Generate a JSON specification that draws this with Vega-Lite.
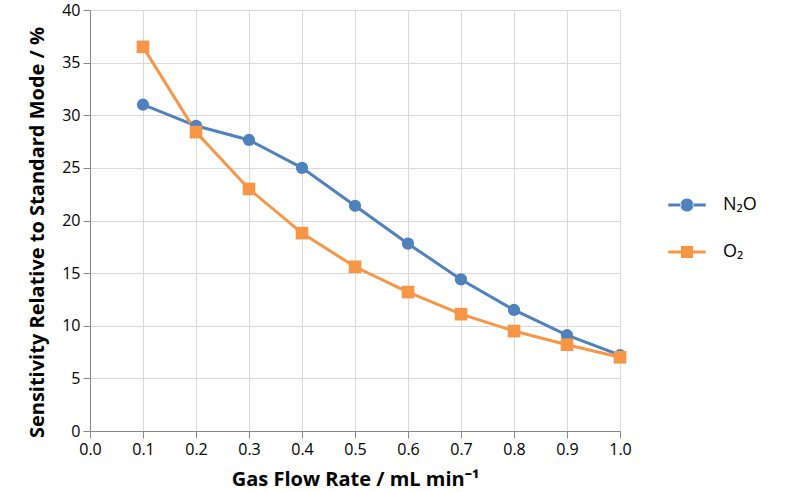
{
  "$schema": "https://vega.github.io/schema/vega-lite/v6.json",
  "autosize": "none",
  "width": 530,
  "height": 421,
  "padding": {"left": 90, "top": 10, "right": 170, "bottom": 61},
  "background": "white",
  "config": {
    "view": {"stroke": null},
    "font": "Open Sans",
    "axis": {
      "labelFont": "Open Sans",
      "labelFontSize": 16,
      "labelColor": "#000000",
      "titleFont": "Open Sans",
      "titleFontSize": 20,
      "titleFontWeight": "bold",
      "titleColor": "#000000",
      "domainColor": "#868686",
      "tickColor": "#868686",
      "gridColor": "#d9d9d9",
      "tickSize": 7,
      "labelPadding": 3
    }
  },
  "data": {
    "values": [
      {"x": 0.1, "value": 31.0, "series": "N₂O"},
      {"x": 0.2, "value": 29.0, "series": "N₂O"},
      {"x": 0.3, "value": 27.65, "series": "N₂O"},
      {"x": 0.4, "value": 25.0, "series": "N₂O"},
      {"x": 0.5, "value": 21.4, "series": "N₂O"},
      {"x": 0.6, "value": 17.8, "series": "N₂O"},
      {"x": 0.7, "value": 14.4, "series": "N₂O"},
      {"x": 0.8, "value": 11.5, "series": "N₂O"},
      {"x": 0.9, "value": 9.1, "series": "N₂O"},
      {"x": 1.0, "value": 7.2, "series": "N₂O"},
      {"x": 0.1, "value": 36.5, "series": "O₂"},
      {"x": 0.2, "value": 28.4, "series": "O₂"},
      {"x": 0.3, "value": 23.0, "series": "O₂"},
      {"x": 0.4, "value": 18.8, "series": "O₂"},
      {"x": 0.5, "value": 15.6, "series": "O₂"},
      {"x": 0.6, "value": 13.2, "series": "O₂"},
      {"x": 0.7, "value": 11.1, "series": "O₂"},
      {"x": 0.8, "value": 9.5, "series": "O₂"},
      {"x": 0.9, "value": 8.2, "series": "O₂"},
      {"x": 1.0, "value": 7.0, "series": "O₂"}
    ]
  },
  "encoding": {
    "x": {
      "field": "x", "type": "quantitative",
      "scale": {"domain": [0, 1], "nice": false, "zero": false},
      "axis": {"title": "Gas Flow Rate / mL min⁻¹", "values": [0,0.1,0.2,0.3,0.4,0.5,0.6,0.7,0.8,0.9,1.0], "format": ".1f", "titlePadding": 12, "labelFlush": false}
    },
    "y": {
      "field": "value", "type": "quantitative",
      "scale": {"domain": [0, 40], "nice": false},
      "axis": {"title": "Sensitivity Relative to Standard Mode / %", "values": [0,5,10,15,20,25,30,35,40], "titlePadding": 14, "titleY": 222, "labelFlush": false}
    },
    "color": {
      "field": "series", "type": "nominal",
      "scale": {"domain": ["N₂O", "O₂"], "range": ["#4f81bd", "#f79646"]},
      "legend": {
        "title": null,
        "orient": "none",
        "legendX": 578,
        "legendY": 176,
        "padding": 0,
        "symbolSize": 1400,
        "symbolType": "circle",
        "rowPadding": 19,
        "labelOffset": 17,
        "labelFont": "Open Sans",
        "labelFontSize": 18,
        "labelColor": "#000000",
        "encode": {
          "symbols": {
            "update": {
              "shape": {"signal": "datum.value === 'N₂O' ? 'M-1,-0.08H-0.3V0.08H-1Z M0.3,-0.08H1V0.08H0.3Z M-0.35,0A0.35,0.35 0 1,0 0.35,0A0.35,0.35 0 1,0 -0.35,0Z' : 'M-1,-0.08H-0.3V0.08H-1Z M0.3,-0.08H1V0.08H0.3Z M-0.32,-0.32H0.32V0.32H-0.32Z'"},
              "fill": {"signal": "scale('color', datum.value)"},
              "stroke": {"value": null},
              "strokeWidth": {"value": 0},
              "size": {"value": 1400},
              "opacity": {"value": 1}
            }
          }
        }
      }
    }
  },
  "layer": [
    {
      "mark": {"type": "line", "strokeWidth": 3}
    },
    {
      "transform": [{"filter": "datum.series === 'N₂O'"}],
      "mark": {"type": "circle", "opacity": 1, "size": 150}
    },
    {
      "transform": [{"filter": "datum.series === 'O₂'"}],
      "mark": {"type": "square", "opacity": 1, "size": 160}
    }
  ]
}
